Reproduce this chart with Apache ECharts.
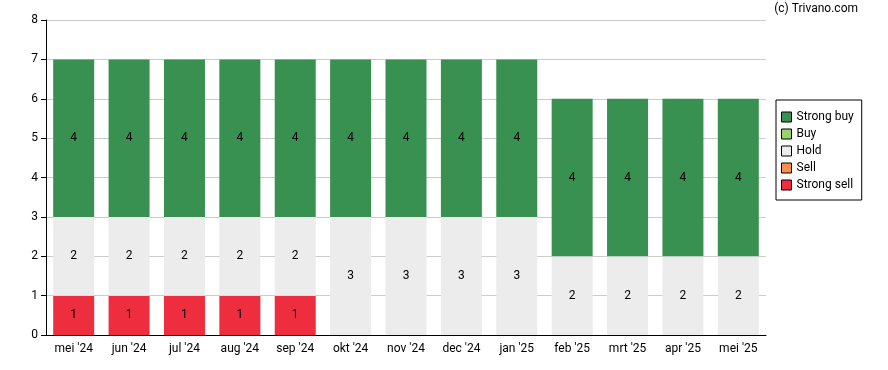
<!DOCTYPE html>
<html><head><meta charset="utf-8">
<script src="https://cdn.jsdelivr.net/npm/echarts@6/dist/echarts.min.js"></script>
<style>html,body{margin:0;padding:0;background:#fff}#c{width:888px;height:370px}</style>
</head><body><div id="c"></div>
<script>
var categories = ["mei '24","jun '24","jul '24","aug '24","sep '24","okt '24","nov '24","dec '24","jan '25","feb '25","mrt '25","apr '25","mei '25"];
var strongSell = [1,1,1,1,1,0,0,0,0,0,0,0,0];
var sell = [0,0,0,0,0,0,0,0,0,0,0,0,0];
var hold = [2,2,2,2,2,3,3,3,3,2,2,2,2];
var buy = [0,0,0,0,0,0,0,0,0,0,0,0,0];
var strongBuy = [4,4,4,4,4,4,4,4,4,4,4,4,4];
var yTicks = [0,1,2,3,4,5,6,7,8];

var font = 'Roboto';
function mk(name, data, color) {
  return {
    name: name, type: 'bar', stack: 'r', data: data, barWidth: 41,
    itemStyle: { color: color },
    label: { show: true, position: 'inside', color: '#000', fontFamily: font, fontSize: 12,
      formatter: function(p){ return p.value ? String(p.value) : ''; } },
    emphasis: { disabled: true }
  };
}
var chart = echarts.init(document.getElementById('c'), null, {renderer:'canvas'});
chart.setOption({
  animation: false,
  grid: { left: 46, right: 122, top: 20, bottom: 35 },
  graphic: [{ type: 'text', right: 30, top: 3, style: { text: '(c) Trivano.com', fontFamily: font, fontSize: 12, fill: '#000' } }],
  legend: {
    orient: 'vertical', left: 776, top: 100, width: 89,
    data: ['Strong buy','Buy','Hold','Sell','Strong sell'],
    icon: 'rect', itemWidth: 10, itemHeight: 10, itemGap: 5,
    padding: [11, 8, 9, 5],
    backgroundColor: '#fff', borderColor: '#000', borderWidth: 1, borderRadius: 0,
    textStyle: { fontFamily: font, fontSize: 12, color: '#000', padding: [0,0,0,0] },
    itemStyle: { borderColor: '#000', borderWidth: 1 }
  },
  xAxis: {
    type: 'category', data: categories,
    axisLine: { lineStyle: { color: '#000', width: 1 } },
    axisTick: { alignWithLabel: true, length: 5, lineStyle: { color: '#000' } },
    axisLabel: { fontFamily: font, fontSize: 12, color: '#000', margin: 8 }
  },
  yAxis: {
    type: 'value', min: 0, max: 8, interval: 1,
    axisLine: { show: true, lineStyle: { color: '#000', width: 1 } },
    axisTick: { show: true, length: 5, lineStyle: { color: '#000' } },
    axisLabel: { fontFamily: font, fontSize: 12, color: '#000', margin: 8,
      formatter: function(v){ return yTicks.indexOf(v) >= 0 ? String(v) : ''; } },
    splitLine: { lineStyle: { color: '#cccccc', width: 1 } }
  },
  series: [
    mk('Strong sell', strongSell, '#ee2e3f'),
    mk('Sell', sell, '#f98e4f'),
    mk('Hold', hold, '#ececec'),
    mk('Buy', buy, '#96d46a'),
    mk('Strong buy', strongBuy, '#389150')
  ]
});
</script></body></html>
